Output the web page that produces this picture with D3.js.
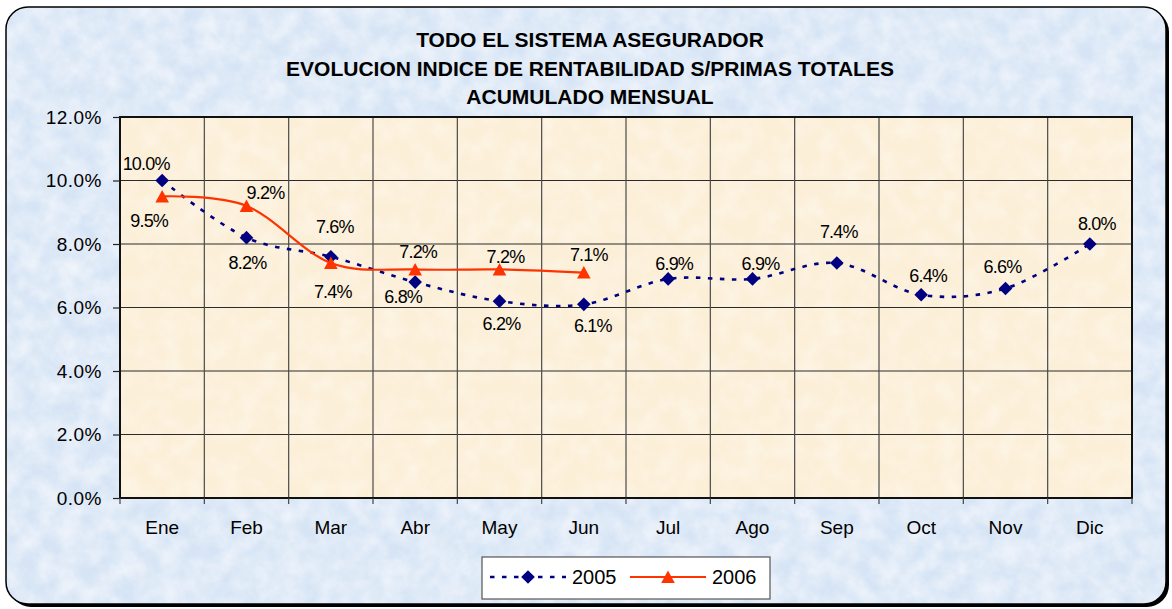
<!DOCTYPE html>
<html>
<head>
<meta charset="utf-8">
<script src="https://cdn.jsdelivr.net/npm/d3@7"></script>
<style>
body { margin: 0; background: #fff; }
svg { display: block; font-family: "Liberation Sans", Arial, sans-serif; }
</style>
</head>
<body>
<svg width="1172" height="609"></svg>
<script>
// data
var months = ["Ene", "Feb", "Mar", "Abr", "May", "Jun", "Jul", "Ago", "Sep", "Oct", "Nov", "Dic"];
var serie2005 = [0.100, 0.082, 0.076, 0.068, 0.062, 0.061, 0.069, 0.069, 0.074, 0.064, 0.066, 0.080];
var serie2006 = [0.095, 0.092, 0.074, 0.072, 0.072, 0.071];
var yTicks = [0, 0.02, 0.04, 0.06, 0.08, 0.10, 0.12];
var seriesNames = ["2005", "2006"];
var titleLines = ["TODO EL SISTEMA ASEGURADOR",
                  "EVOLUCION INDICE DE RENTABILIDAD S/PRIMAS TOTALES",
                  "ACUMULADO MENSUAL"];

// label placement (px offset from the marker), as the labels sit in the original
var lab2005 = [[-16,-11],[1,31],[4,-24],[-12,21],[2,29],[9,28],[6,-9],[8,-9],[2,-25],[7,-13],[-3,-15],[7,-14]];
var lab2006 = [[-13,31],[19,-7],[2,35],[3,-11],[6,-6],[5,-12]];

var svg = d3.select("svg");
var pLeft = 120, pRight = 1132, pTop = 117, pBottom = 498;

var defs = svg.append("defs");
function texture(id, freq, a, b) {
  var f = defs.append("filter").attr("id", id)
    .attr("x", 0).attr("y", 0).attr("width", "100%").attr("height", "100%");
  f.append("feTurbulence").attr("type", "fractalNoise")
    .attr("baseFrequency", freq).attr("numOctaves", 4).attr("seed", 7).attr("result", "n");
  f.append("feColorMatrix").attr("in", "n").attr("type", "matrix")
    .attr("values", "0 0 0 0 1  0 0 0 0 1  0 0 0 0 1  " + a + " 0 0 0 " + b).attr("result", "w");
  f.append("feComposite").attr("in", "w").attr("in2", "SourceGraphic").attr("operator", "in").attr("result", "wc");
  var m = f.append("feMerge");
  m.append("feMergeNode").attr("in", "SourceGraphic");
  m.append("feMergeNode").attr("in", "wc");
}
texture("texBlue", 0.05, 0.9, -0.22);
texture("texCream", 0.05, 0.6, -0.2);

// frame with shadow
svg.append("rect").attr("x", 9).attr("y", 10).attr("width", 1160).attr("height", 597)
  .attr("rx", 22).attr("fill", "#000");
svg.append("rect").attr("x", 6).attr("y", 7).attr("width", 1160).attr("height", 597)
  .attr("rx", 22).attr("fill", "#d6e4f5").attr("filter", "url(#texBlue)");
svg.append("rect").attr("x", 6).attr("y", 7).attr("width", 1160).attr("height", 597)
  .attr("rx", 22).attr("fill", "none").attr("stroke", "#000").attr("stroke-width", 1.5);

// title
svg.append("g").selectAll("text").data(titleLines).enter().append("text")
  .attr("x", 590).attr("y", function(d, i) { return 47 + i * 28.5; })
  .attr("text-anchor", "middle").attr("font-weight", "bold").attr("font-size", "21px")
  .attr("fill", "#000")
  .text(function(d) { return d; });

var x = d3.scaleBand().domain(months).range([pLeft, pRight]);
var y = d3.scaleLinear().domain([0, 0.12]).range([pBottom, pTop]);
var cx = function(i) { return x(months[i]) + x.bandwidth() / 2; };

// plot area
svg.append("rect").attr("x", pLeft).attr("y", pTop).attr("width", pRight - pLeft).attr("height", pBottom - pTop)
  .attr("fill", "#fcefd7").attr("filter", "url(#texCream)");

// grid
var g = svg.append("g");
g.selectAll(".hg").data(yTicks).enter().append("line")
  .attr("x1", pLeft).attr("x2", pRight)
  .attr("y1", function(d) { return y(d); }).attr("y2", function(d) { return y(d); })
  .attr("stroke", "#2a2a2a").attr("stroke-width", 1.2);
g.selectAll(".vg").data(months.slice(1)).enter().append("line")
  .attr("x1", function(d) { return x(d); }).attr("x2", function(d) { return x(d); })
  .attr("y1", pTop).attr("y2", pBottom)
  .attr("stroke", "#4a4a4a").attr("stroke-width", 1.2);
svg.append("rect").attr("x", pLeft).attr("y", pTop).attr("width", pRight - pLeft).attr("height", pBottom - pTop)
  .attr("fill", "none").attr("stroke", "#111").attr("stroke-width", 2);

// y axis
var yAxis = svg.append("g").attr("transform", "translate(" + pLeft + ",0)")
  .call(d3.axisLeft(y).tickValues(yTicks).tickFormat(d3.format(".1%")).tickSize(7).tickPadding(11));
yAxis.select(".domain").remove();
yAxis.selectAll("line").attr("stroke", "#222").attr("stroke-width", 1.2);
yAxis.selectAll("text").attr("font-size", "19px").attr("font-family", "Liberation Sans, Arial, sans-serif")
  .attr("letter-spacing", "0.5px").attr("fill", "#000");

// x axis: labels in band centres, ticks on band edges
var xAxis = svg.append("g").attr("transform", "translate(0," + pBottom + ")")
  .call(d3.axisBottom(x).tickSize(0).tickPadding(23));
xAxis.select(".domain").remove();
xAxis.selectAll("text").attr("font-size", "19px").attr("font-family", "Liberation Sans, Arial, sans-serif")
  .attr("fill", "#000");
svg.append("g").selectAll("line").data(months.concat(["end"])).enter().append("line")
  .attr("x1", function(d, i) { return i < months.length ? x(d) : pRight; })
  .attr("x2", function(d, i) { return i < months.length ? x(d) : pRight; })
  .attr("y1", pBottom).attr("y2", pBottom + 6)
  .attr("stroke", "#444").attr("stroke-width", 1.2);

// lines
var line = d3.line()
  .x(function(d, i) { return cx(i); })
  .y(function(d) { return y(d); })
  .curve(d3.curveCatmullRom.alpha(0));

svg.append("path").datum(serie2005).attr("d", line)
  .attr("fill", "none").attr("stroke", "#000080").attr("stroke-width", 2.6)
  .attr("stroke-dasharray", "4.5,7.5");
svg.append("path").datum(serie2006).attr("d", line)
  .attr("fill", "none").attr("stroke", "#ff3300").attr("stroke-width", 2.2);

var diamond = "M0,-6.8L6.8,0L0,6.8L-6.8,0Z";
var triangle = "M0,-6.5L6.8,6L-6.8,6Z";

svg.append("g").selectAll("path").data(serie2005).enter().append("path")
  .attr("d", diamond).attr("fill", "#000080")
  .attr("transform", function(d, i) { return "translate(" + cx(i) + "," + y(d) + ")"; });
svg.append("g").selectAll("path").data(serie2006).enter().append("path")
  .attr("d", triangle).attr("fill", "#ff3300")
  .attr("transform", function(d, i) { return "translate(" + cx(i) + "," + y(d) + ")"; });

// data labels
function labels(data, offs) {
  svg.append("g").selectAll("text").data(data).enter().append("text")
    .attr("x", function(d, i) { return cx(i) + offs[i][0]; })
    .attr("y", function(d, i) { return y(d) + offs[i][1]; })
    .attr("text-anchor", "middle").attr("font-size", "18px").attr("letter-spacing", "-0.8px")
    .attr("fill", "#000")
    .text(function(d) { return d3.format(".1%")(d); });
}
labels(serie2005, lab2005);
labels(serie2006, lab2006);

// legend
var lg = svg.append("g").attr("transform", "translate(482,557)");
lg.append("rect").attr("width", 288).attr("height", 42).attr("fill", "#fff")
  .attr("stroke", "#555").attr("stroke-width", 1.2);
var items = [
  { name: seriesNames[0], x0: 8, color: "#000080", dash: "4.5,7.5", w: 2.6, mark: diamond },
  { name: seriesNames[1], x0: 148, color: "#ff3300", dash: null, w: 2.2, mark: triangle }
];
items.forEach(function(it) {
  lg.append("line").attr("x1", it.x0).attr("x2", it.x0 + 76).attr("y1", 20).attr("y2", 20)
    .attr("stroke", it.color).attr("stroke-width", it.w).attr("stroke-dasharray", it.dash);
  lg.append("path").attr("d", it.mark).attr("fill", it.color)
    .attr("transform", "translate(" + (it.x0 + 38) + ",20)");
  lg.append("text").attr("x", it.x0 + 82).attr("y", 27).attr("font-size", "20px").attr("fill", "#000")
    .text(it.name);
});
</script>
</body>
</html>
